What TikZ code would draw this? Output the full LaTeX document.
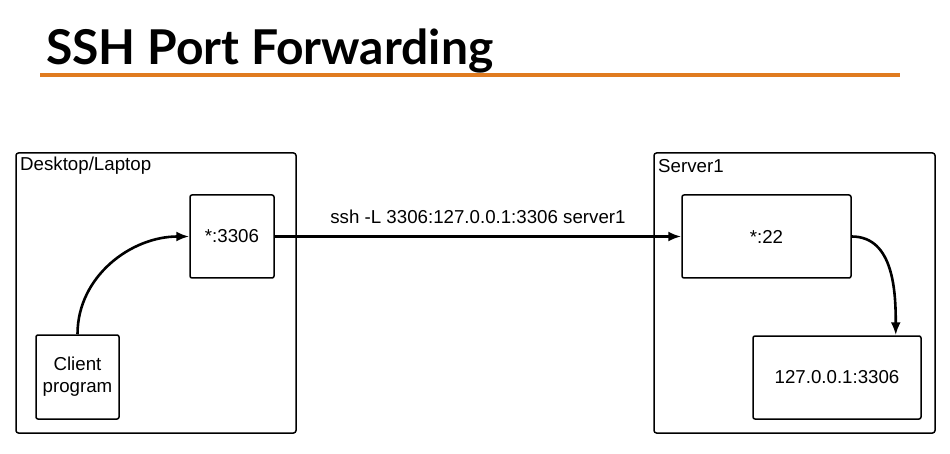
\documentclass[tikz,border=0pt]{standalone}
\usepackage{fontspec}
\setmainfont{Liberation Sans}
\newfontfamily\titlefont{Lato}
\usetikzlibrary{arrows.meta}
\definecolor{rulecol}{HTML}{E07B20}
\begin{document}
\begin{tikzpicture}[x=1pt,y=-1pt,
  outerbox/.style={draw, line width=1.5pt, rounded corners=2.5pt},
  innerbox/.style={draw, line width=1.5pt, rounded corners=2pt, font=\fontsize{18.7}{22}\selectfont, align=center},
  conn/.style={line width=2.6pt, -{Latex[length=13pt,width=10pt]}},
  lbl/.style={font=\fontsize{18.7}{22}\selectfont, anchor=west, inner sep=0pt}
]
\useasboundingbox (0,0) rectangle (950,454);
\node[anchor=base west, inner sep=0pt, font=\titlefont\bfseries\fontsize{48}{54}\selectfont] (title) at (46,65) {SSH Port Forwarding};
\draw[rulecol, line width=3.2pt] (40,75) coordinate (r1) -- (900,75) coordinate (r2);

% outer boxes
\draw[outerbox] (16,153) rectangle (296,433);
\node[lbl] (desk) at (20,166) {Desktop/Laptop};
\draw[outerbox] (654,153) rectangle (935,433);
\node[lbl] (srv) at (658,166) {Server1};

% inner boxes
\node[innerbox, minimum width=84pt, minimum height=83pt] (p3306) at (232,236.5) {*:3306};
\node[innerbox, minimum width=83pt, minimum height=84pt, inner sep=0pt] (client) at (77.5,377) {Client\\program};
\node[innerbox, minimum width=169pt, minimum height=83pt] (p22) at (766.5,236.5) {*:22};
\node[innerbox, minimum width=168pt, minimum height=83pt] (loc) at (837,377.5) {127.0.0.1:3306};

% connectors
\draw[conn] (client.north) to[out=90,in=180] (p3306.west);
\draw[conn] (p3306.east) -- node[above=8pt, font=\fontsize{18.7}{22}\selectfont] (cmd) {ssh -L 3306:127.0.0.1:3306 server1} (p22.west);
\draw[conn] (p22.east) to[out=0,in=90] ([xshift=-26pt]loc.north east) coordinate (locin);
\end{tikzpicture}
\end{document}
